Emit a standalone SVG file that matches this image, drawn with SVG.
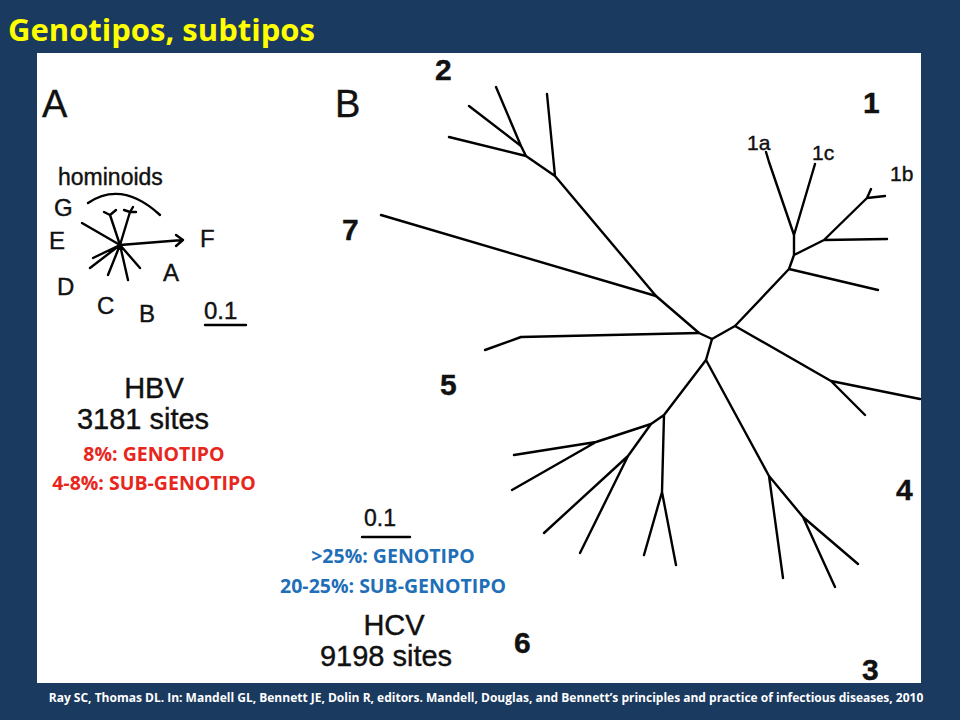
<svg xmlns="http://www.w3.org/2000/svg" width="960" height="720" viewBox="0 0 960 720">
<style>
.t{stroke:#000;stroke-width:2.4;fill:none;stroke-linecap:round;stroke-linejoin:round}
.s{font-family:"Liberation Sans",Arial,sans-serif;fill:#111;stroke:#111;stroke-width:0.4}
.b{font-weight:bold}
.red{font-family:"Open Sans","Liberation Sans",sans-serif;font-weight:bold;fill:#e8261c;font-size:19.5px;text-anchor:middle}
.blue{font-family:"Open Sans","Liberation Sans",sans-serif;font-weight:bold;fill:#1f6fb8;font-size:19.5px;text-anchor:middle}
</style>
<rect width="960" height="720" fill="#1b3a5f"/>
<text x="8" y="41" font-family="'Open Sans','Liberation Sans',sans-serif" font-weight="bold" font-size="31" fill="#ffff00">Genotipos, subtipos</text>
<rect x="37" y="53" width="884" height="630" fill="#fff"/>
<g id="hbv">
<text class="s" x="42" y="117" font-size="38">A</text>
<text class="s" x="58" y="185" font-size="23">hominoids</text>
<path class="t" d="M88,203 Q122,180 160,215"/>
<g class="t">
<path d="M82,223 L120,245 L183,240 M176,235 L183,240 L176,246"/>
<path d="M120,245 L93,258 M120,245 L90,268 M120,245 L108,275 M120,245 L128,280 M120,245 L140,268"/>
<path d="M120,245 L110,215 M104,212 L110,215 L116,210 M120,245 L130,212 M124,210 L130,212 L136,212 M130,212 L133,207"/>
<path d="M205,325 L246,325"/>
</g>
<g class="s" font-size="24">
<text x="54" y="216">G</text><text x="49" y="249">E</text><text x="200" y="247">F</text>
<text x="57" y="295">D</text><text x="97" y="314">C</text><text x="139" y="322">B</text><text x="163" y="281">A</text>
<text x="204" y="319">0.1</text>
</g>
<text class="s" x="154" y="398" font-size="29" text-anchor="middle">HBV</text>
<text class="s" x="143" y="429" font-size="29" text-anchor="middle">3181 sites</text>
<text class="red" x="154" y="461">8%: GENOTIPO</text>
<text class="red" x="154" y="490">4-8%: SUB-GENOTIPO</text>
</g>
<g id="hcv">
<text class="s" x="335" y="117" font-size="38">B</text>
<g class="t">
<path d="M712,339 L699,333 L656,296 L555,176 L547,94 M555,176 L526,156 L449,137 M526,156 L521,146 L469,106 M521,146 L496,87"/>
<path d="M656,296 L381,215"/>
<path d="M699,333 L521,337 L485,350"/>
<path d="M712,339 L735,326 L789,269 L878,290 M789,269 L794,255 L794,235 L769,162 M766,152 L769,162 M794,235 L815,164 M794,255 L824,240 L887,239 M824,240 L867,198 L885,196 M867,198 L871,189"/>
<path d="M735,326 L831,381 L920,399 M831,381 L865,415"/>
<path d="M712,339 L706,360 L664,415 L662,492 L644,555 M662,492 L676,565 M664,415 L651,424 L596,442 L514,455 M596,442 L512,490 M651,424 L628,456 L544,533 M628,456 L580,553"/>
<path d="M706,360 L769,476 L783,578 M769,476 L803,517 L858,564 M803,517 L835,587"/>
<path d="M362,537 L410,537"/>
</g>
<g class="s b" font-size="30">
<text x="435" y="80">2</text><text x="863" y="113">1</text><text x="342" y="240">7</text>
<text x="440" y="395">5</text><text x="896" y="500">4</text><text x="514" y="653">6</text><text x="862" y="680">3</text>
</g>
<g class="s" font-size="21"><text x="747" y="150">1a</text><text x="812" y="160">1c</text><text x="890" y="181">1b</text></g>
<text class="s" x="364" y="526" font-size="23">0.1</text>
<text class="blue" x="393" y="563">&gt;25%: GENOTIPO</text>
<text class="blue" x="393" y="593">20-25%: SUB-GENOTIPO</text>
<text class="s" x="394" y="635" font-size="29" text-anchor="middle">HCV</text>
<text class="s" x="386" y="666" font-size="29" text-anchor="middle">9198 sites</text>
</g>
<text x="486" y="702" font-family="'Open Sans','Liberation Sans',sans-serif" font-weight="bold" font-size="12" fill="#fff" text-anchor="middle">Ray SC, Thomas DL. In: Mandell GL, Bennett JE, Dolin R, editors. Mandell, Douglas, and Bennett’s principles and practice of infectious diseases, 2010</text>
</svg>
